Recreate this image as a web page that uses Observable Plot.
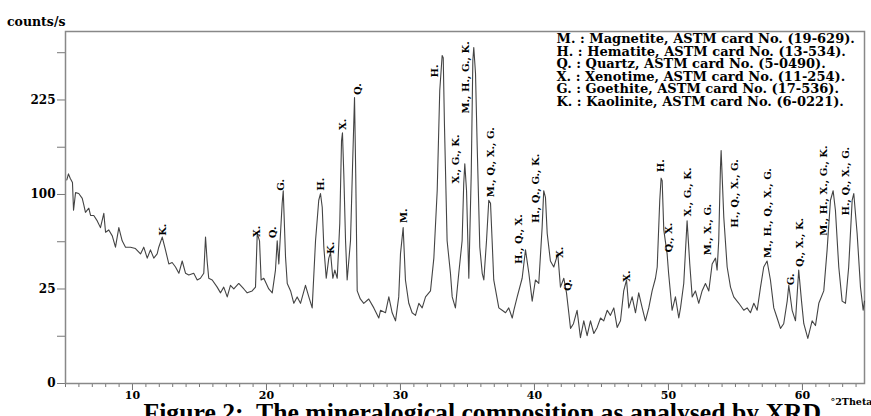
<!DOCTYPE html>
<html>
<head>
<meta charset="utf-8">
<script src="https://cdn.jsdelivr.net/npm/d3@7"></script>
<script src="https://cdn.jsdelivr.net/npm/@observablehq/plot@0.6"></script>
<style>
  html, body { margin: 0; padding: 0; background: white; overflow: hidden; }
  #chart { width: 871px; height: 416px; overflow: hidden; }
</style>
</head>
<body>
<div id="chart"></div>
<script>
const theta = [
  5.10, 5.22, 5.35, 5.52, 5.60, 5.75, 5.99, 6.25, 6.37, 6.49, 6.74, 6.87, 7.11, 7.37, 7.61, 7.86, 7.99,
  8.23, 8.49, 8.73, 8.98, 9.23, 9.48, 9.85, 10.22, 10.60, 10.84, 11.10, 11.34, 11.59, 11.84, 11.96,
  12.22, 12.46, 12.71, 12.96, 13.21, 13.46, 13.71, 13.96, 14.20, 14.57, 14.83, 15.07, 15.32, 15.45,
  15.57, 15.69, 15.95, 16.32, 16.57, 16.81, 17.07, 17.31, 17.56, 17.93, 18.31, 18.56, 18.93, 19.18,
  19.31, 19.48, 19.60, 19.80, 20.17, 20.43, 20.67, 20.80, 20.92, 21.17, 21.25, 21.42, 21.55, 21.80,
  22.04, 22.29, 22.54, 22.91, 23.16, 23.41, 23.66, 23.90, 24.03, 24.16, 24.28, 24.46, 24.65, 24.78,
  24.95, 25.10, 25.28, 25.47, 25.60, 25.67, 25.77, 25.90, 26.02, 26.27, 26.42, 26.57, 26.66, 26.77,
  27.00, 27.26, 27.63, 28.01, 28.38, 28.51, 28.88, 29.13, 29.38, 29.63, 29.87, 30.00, 30.20, 30.37,
  30.62, 30.87, 31.12, 31.37, 31.62, 31.87, 32.24, 32.49, 32.74, 32.93, 33.11, 33.19, 33.28, 33.48,
  33.73, 33.86, 34.10, 34.35, 34.60, 34.72, 34.80, 34.93, 35.10, 35.28, 35.40, 35.47, 35.60, 35.72,
  35.92, 36.10, 36.22, 36.42, 36.59, 36.72, 36.84, 36.96, 37.34, 37.59, 37.84, 38.08, 38.34, 38.46,
  38.71, 39.08, 39.33, 39.58, 39.83, 40.07, 40.32, 40.57, 40.69, 40.82, 40.95, 41.19, 41.44, 41.74,
  41.94, 42.19, 42.39, 42.56, 42.69, 42.91, 43.18, 43.43, 43.68, 43.93, 44.18, 44.43, 44.68, 44.93,
  45.17, 45.43, 45.67, 45.92, 46.17, 46.42, 46.66, 46.87, 47.04, 47.29, 47.54, 47.78, 48.04, 48.28,
  48.53, 48.78, 49.03, 49.16, 49.35, 49.45, 49.53, 49.65, 49.90, 50.01, 50.27, 50.52, 50.77, 50.90,
  51.14, 51.39, 51.59, 51.77, 52.01, 52.26, 52.51, 52.76, 53.01, 53.26, 53.51, 53.63, 53.75, 53.88,
  53.93, 54.00, 54.13, 54.38, 54.63, 54.87, 55.25, 55.62, 55.87, 56.12, 56.37, 56.62, 56.87, 57.11,
  57.36, 57.61, 57.86, 58.11, 58.36, 58.60, 58.86, 58.98, 59.23, 59.48, 59.72, 59.93, 60.10, 60.40,
  60.72, 60.97, 61.22, 61.59, 61.84, 62.09, 62.29, 62.46, 62.71, 62.96, 63.21, 63.45, 63.71, 63.83,
  64.08, 64.33, 64.53, 64.63
];
const counts = [
  116, 123, 118, 113, 84, 102, 101, 96, 89, 82, 86, 79, 79, 74, 68, 81, 64,
  66, 61, 52, 68, 57, 52, 52, 51, 47, 52, 44, 50, 44, 47, 52,
  60, 50, 40, 41, 38, 34, 42, 34, 33, 34, 30, 31, 34, 60,
  42, 31, 30, 26, 23, 26, 21, 27, 25, 28, 25, 23, 24, 26,
  63, 57, 30, 31, 25, 23, 36, 57, 40, 91, 104, 45, 28, 24,
  18, 21, 18, 27, 21, 16, 57, 94, 101, 87, 52, 31, 44, 48,
  31, 36, 31, 72, 165, 176, 123, 57, 30, 57, 131, 229, 123, 24,
  20, 18, 20, 16, 12, 15, 14, 21, 14, 11, 21, 47, 68, 30,
  18, 14, 13, 18, 16, 21, 24, 44, 104, 240, 301, 297, 189, 57,
  34, 21, 16, 34, 57, 112, 135, 104, 31, 123, 292, 316, 269, 161,
  52, 34, 30, 57, 94, 91, 57, 30, 16, 15, 14, 16, 12, 15,
  21, 31, 50, 34, 19, 30, 28, 68, 104, 97, 63, 42, 38, 47,
  26, 31, 23, 14, 8.5, 10, 15, 5.9, 11, 6.4, 11, 7, 8.8, 12,
  11, 15, 13, 16, 8.8, 11, 24, 30, 16, 21, 14, 23, 16, 11,
  16, 24, 31, 38, 94, 118, 115, 66, 47, 34, 15, 21, 12, 16,
  28, 74, 40, 21, 24, 18, 24, 28, 24, 40, 44, 36, 57, 131,
  152, 123, 77, 38, 26, 21, 18, 15, 16, 14, 18, 15, 26, 38,
  42, 30, 16, 12, 8.5, 10, 19, 27, 15, 11, 36, 19, 10, 5.7,
  11, 9.4, 18, 24, 50, 94, 104, 84, 38, 19, 18, 38, 94, 101,
  63, 26, 15, 19
];

// Peak annotations: phase letters, 2-theta of the label, intensity at the label's foot
const peakLabels = [
  "K.", "X.", "Q.", "G.", "H.", "K.", "X.", "Q.", "M.", "H.",
  "X., G., K.", "M., H., G., K.", "M., Q., X., G.", "H., Q., X.", "H., Q., G., K.",
  "X.", "Q.", "X.", "H.", "Q., X.", "X., G., K.", "M., X., G.", "H., Q., X., G.",
  "M., H., Q., X., G.", "G.", "Q., X., K.", "M., H., X., G., K.", "H., Q., X., G."
];
const peakTheta = [
  12.24, 19.25, 20.45, 21.04, 24.03, 24.78, 25.67, 26.79, 30.22, 32.54,
  34.10, 34.85, 36.72, 38.81, 40.07,
  41.87, 42.46, 46.87, 49.40, 50.00, 51.42, 52.91, 54.93,
  57.39, 59.10, 59.78, 61.57, 63.21
];
const peakCounts = [
  61, 60, 59, 104, 104, 47, 180, 233, 72, 262,
  112, 204, 97, 40, 72,
  44, 24, 29, 125, 48, 78, 46, 68,
  44, 27, 38, 61, 79
];

const legendLines = [
  "M. : Magnetite, ASTM card No. (19-629).",
  "H. : Hematite, ASTM card No. (13-534).",
  "Q. : Quartz, ASTM card No. (5-0490).",
  "X. : Xenotime, ASTM card No. (11-254).",
  "G. : Goethite, ASTM card No. (17-536).",
  "K. : Kaolinite, ASTM card No. (6-0221)."
];

const xTicks = [10, 20, 30, 40, 50, 60];
const xMinorTicks = d3.range(5, 65, 1);
const yTicks = [0, 25, 100, 225];
const yMinorTicks = [6.25, 56.25, 156.25, 306.25];

const yLabel = "counts/s";
const xLabel = "°2Theta";
const caption = "Figure 2:  The mineralogical composition as analysed by XRD";

const pattern = theta.map((t, i) => ({theta: t, counts: counts[i]}));
const labels = peakLabels.map((s, i) => ({text: s, theta: peakTheta[i], counts: peakCounts[i]}));

const wideSerif = "'DejaVu Serif', serif";
const tallSerif = "'Liberation Serif', 'Times New Roman', serif";
const blank = () => "";

const chart = Plot.plot({
  width: 871,
  height: 416,
  marginLeft: 65,
  marginRight: 7,
  marginTop: 31,
  marginBottom: 33,
  style: {fontFamily: wideSerif, fontWeight: "bold", background: "white", color: "black"},
  x: {domain: [5, 64.63]},
  y: {type: "sqrt", domain: [0, 346.8]},
  marks: [
    Plot.axisX({ticks: xMinorTicks, tickSize: 4, tickFormat: blank, color: "#777", label: null}),
    Plot.axisX({ticks: xTicks, tickSize: 7, tickFormat: blank, color: "#777", label: null}),
    Plot.axisX({ticks: xTicks, tickSize: 0, tickPadding: 8, fontSize: 11, color: "black", label: null}),
    Plot.axisY({ticks: yMinorTicks, tickSize: 8, tickFormat: blank, color: "#777", label: null}),
    Plot.axisY({ticks: yTicks, tickSize: 8, tickFormat: blank, color: "#777", label: null}),
    Plot.axisY({ticks: yTicks, tickSize: 0, tickPadding: 10, fontSize: 12, color: "black", label: null}),
    Plot.frame({stroke: "#888", strokeWidth: 1.5}),
    Plot.line(pattern, {x: "theta", y: "counts", stroke: "#444", strokeWidth: 1.1}),
    Plot.text(labels, {
      x: "theta", y: "counts", text: "text", rotate: -90,
      textAnchor: "start", lineAnchor: "middle", fontSize: 10, fill: "black"
    }),
    Plot.text([legendLines.join("\n")], {
      text: d => d, frameAnchor: "top-left", dx: 491, dy: 3,
      lineAnchor: "top", textAnchor: "start", fontSize: 13, lineHeight: 0.96, fill: "black"
    }),
    Plot.text([yLabel], {text: d => d, frameAnchor: "top-left", textAnchor: "end", dx: 0, dy: -14, fontSize: 12.5, fill: "black"}),
    Plot.text([xLabel], {text: d => d, frameAnchor: "bottom-right", textAnchor: "start", dx: -34, dy: 21, fontSize: 9.5, fill: "black"}),
    Plot.text([caption], {
      text: d => d, frameAnchor: "bottom-left", textAnchor: "start", dx: 78, dy: 37,
      fontSize: 25.7, fontFamily: tallSerif, fill: "black"
    })
  ]
});
document.getElementById("chart").append(chart);
</script>
</body>
</html>
